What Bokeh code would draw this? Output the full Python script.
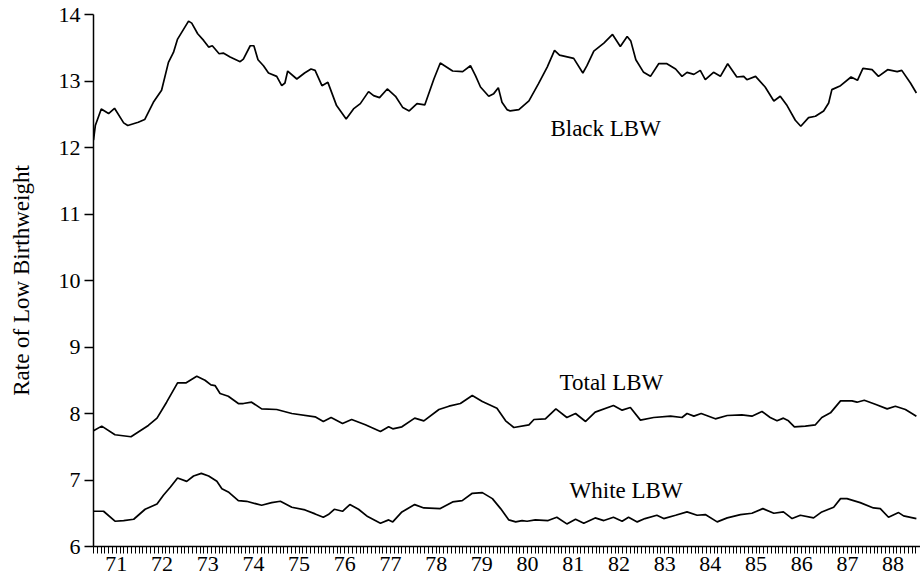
from bokeh.plotting import figure
from bokeh.models import FixedTicker, Label, Range1d, CustomJSTickFormatter
from bokeh.embed import file_html
from bokeh.resources import INLINE

# ---- data (decimal years, rate %) ----
black_x = [71.00, 71.04, 71.17, 71.33, 71.46, 71.66, 71.75, 71.98, 72.12, 72.31, 72.49, 72.64, 72.75, 72.84,
           73.08, 73.15, 73.28, 73.41, 73.52, 73.60, 73.75, 73.84, 73.99, 74.21, 74.28, 74.43, 74.51, 74.60,
           74.72, 74.83, 75.01, 75.12, 75.19, 75.25, 75.45, 75.62, 75.76, 75.85, 76.00, 76.13, 76.32, 76.53,
           76.69, 76.84, 77.02, 77.13, 77.26, 77.43, 77.61, 77.77, 77.91, 78.08, 78.25, 78.45, 78.59, 78.86,
           79.08, 79.25, 79.36, 79.47, 79.65, 79.76, 79.86, 79.94, 80.05, 80.12, 80.31, 80.53, 80.74, 80.93,
           81.09, 81.20, 81.51, 81.71, 81.80, 81.95, 82.17, 82.36, 82.53, 82.68, 82.76, 82.87, 83.04, 83.19,
           83.37, 83.55, 83.74, 83.88, 83.99, 84.14, 84.28, 84.39, 84.57, 84.72, 84.88, 85.08, 85.23, 85.30,
           85.49, 85.70, 85.89, 86.03, 86.18, 86.36, 86.48, 86.65, 86.80, 86.98, 87.09, 87.16, 87.35, 87.58,
           87.72, 87.84, 88.04, 88.18, 88.38, 88.59, 88.69, 88.88, 89.01]
black_y = [12.11, 12.33, 12.58, 12.51, 12.59, 12.37, 12.33, 12.38, 12.42, 12.68, 12.86, 13.28, 13.43, 13.63,
           13.90, 13.87, 13.71, 13.61, 13.51, 13.53, 13.41, 13.42, 13.36, 13.29, 13.33, 13.53, 13.53, 13.32,
           13.23, 13.12, 13.07, 12.93, 12.97, 13.15, 13.03, 13.12, 13.18, 13.16, 12.93, 12.98, 12.63, 12.43,
           12.58, 12.66, 12.84, 12.78, 12.75, 12.88, 12.77, 12.60, 12.55, 12.66, 12.64, 13.03, 13.27, 13.15,
           13.14, 13.23, 13.08, 12.91, 12.77, 12.81, 12.90, 12.68, 12.57, 12.55, 12.57, 12.70, 12.96, 13.21,
           13.46, 13.39, 13.34, 13.12, 13.23, 13.45, 13.57, 13.70, 13.52, 13.67, 13.60, 13.32, 13.13, 13.07,
           13.26, 13.26, 13.18, 13.07, 13.13, 13.10, 13.16, 13.02, 13.13, 13.07, 13.26, 13.06, 13.07, 13.02,
           13.07, 12.91, 12.70, 12.77, 12.63, 12.41, 12.32, 12.45, 12.47, 12.55, 12.67, 12.87, 12.93, 13.06,
           13.01, 13.19, 13.17, 13.07, 13.17, 13.14, 13.16, 12.97, 12.82]

total_x = [71.00, 71.18, 71.47, 71.82, 72.20, 72.39, 72.60, 72.84, 73.02, 73.26, 73.44, 73.57, 73.66, 73.77,
           73.95, 74.17, 74.28, 74.46, 74.68, 75.01, 75.34, 75.85, 76.03, 76.20, 76.45, 76.65, 76.95, 77.28,
           77.46, 77.55, 77.75, 78.03, 78.23, 78.56, 78.78, 79.03, 79.29, 79.51, 79.83, 80.02, 80.20, 80.53,
           80.64, 80.89, 81.12, 81.36, 81.55, 81.77, 81.98, 82.38, 82.57, 82.75, 82.97, 83.26, 83.63, 83.88,
           83.99, 84.14, 84.30, 84.61, 84.87, 85.19, 85.41, 85.63, 85.81, 85.96, 86.10, 86.21, 86.34, 86.58,
           86.80, 86.94, 87.13, 87.35, 87.60, 87.71, 87.87, 88.11, 88.37, 88.55, 88.77, 89.01]
total_y = [7.74, 7.81, 7.68, 7.65, 7.82, 7.93, 8.17, 8.46, 8.46, 8.56, 8.50, 8.43, 8.42, 8.30,
           8.26, 8.15, 8.15, 8.17, 8.07, 8.06, 8.00, 7.95, 7.88, 7.94, 7.85, 7.91, 7.83, 7.73,
           7.80, 7.77, 7.80, 7.93, 7.89, 8.06, 8.11, 8.15, 8.27, 8.18, 8.08, 7.89, 7.79, 7.83,
           7.91, 7.92, 8.07, 7.94, 8.00, 7.88, 8.02, 8.12, 8.05, 8.09, 7.90, 7.94, 7.96, 7.94,
           8.00, 7.96, 8.00, 7.92, 7.97, 7.98, 7.96, 8.03, 7.94, 7.89, 7.93, 7.89, 7.80, 7.81,
           7.83, 7.94, 8.01, 8.19, 8.19, 8.17, 8.20, 8.14, 8.07, 8.11, 8.06, 7.96]

white_x = [71.00, 71.22, 71.47, 71.66, 71.88, 72.13, 72.39, 72.53, 72.68, 72.84, 73.04, 73.19, 73.36, 73.52,
           73.70, 73.81, 73.95, 74.17, 74.35, 74.68, 74.90, 75.09, 75.34, 75.63, 75.85, 76.03, 76.14, 76.27,
           76.45, 76.61, 76.80, 77.00, 77.28, 77.46, 77.55, 77.75, 78.03, 78.23, 78.59, 78.86, 79.07, 79.29,
           79.51, 79.73, 79.91, 80.09, 80.24, 80.38, 80.49, 80.67, 80.95, 81.14, 81.36, 81.55, 81.73, 81.98,
           82.17, 82.38, 82.57, 82.71, 82.90, 83.07, 83.33, 83.48, 83.74, 83.99, 84.21, 84.39, 84.65, 84.87,
           85.16, 85.41, 85.65, 85.89, 86.10, 86.29, 86.47, 86.76, 86.94, 87.20, 87.35, 87.49, 87.78, 88.07,
           88.22, 88.40, 88.62, 88.73, 89.01]
white_y = [6.53, 6.53, 6.38, 6.39, 6.41, 6.56, 6.64, 6.77, 6.89, 7.03, 6.98, 7.06, 7.10, 7.06,
           6.98, 6.87, 6.82, 6.69, 6.68, 6.62, 6.66, 6.68, 6.59, 6.55, 6.49, 6.44, 6.48, 6.56,
           6.53, 6.63, 6.56, 6.45, 6.35, 6.40, 6.37, 6.52, 6.63, 6.58, 6.57, 6.67, 6.69, 6.80,
           6.81, 6.72, 6.57, 6.40, 6.37, 6.39, 6.38, 6.40, 6.39, 6.44, 6.34, 6.41, 6.35, 6.43,
           6.39, 6.44, 6.38, 6.44, 6.37, 6.42, 6.47, 6.42, 6.47, 6.52, 6.47, 6.48, 6.37, 6.43,
           6.48, 6.50, 6.57, 6.50, 6.52, 6.42, 6.47, 6.43, 6.52, 6.59, 6.72, 6.72, 6.66, 6.58,
           6.57, 6.44, 6.51, 6.46, 6.42]

year_tick_pos = [71.5 + i for i in range(18)]
year_labels = ["71", "72", "73", "74", "75", "76", "77", "78", "79",
               "80", "81", "82", "83", "84", "85", "86", "87", "88"]
y_ticks = [6, 7, 8, 9, 10, 11, 12, 13, 14]

FONT = "Liberation Serif"

p = figure(width=920, height=580, x_range=Range1d(71, 89.1), y_range=Range1d(6, 14),
           output_backend="svg", toolbar_location=None,
           min_border_left=93, min_border_right=0, min_border_top=14, min_border_bottom=34)
p.outline_line_color = None
p.grid.visible = False
p.background_fill_color = "white"
p.border_fill_color = "white"

for xs, ys in ((black_x, black_y), (total_x, total_y), (white_x, white_y)):
    p.line(xs, ys, line_color="black", line_width=1.7)

# y axis
ya = p.yaxis[0]
ya.ticker = FixedTicker(ticks=y_ticks, minor_ticks=[])
ya.axis_line_color = "black"
ya.axis_line_width = 1.5
ya.major_tick_out = 9
ya.major_tick_in = 0
ya.major_tick_line_width = 1.5
ya.minor_tick_line_color = None
ya.major_label_text_font = FONT
ya.major_label_text_font_size = "22px"
ya.major_label_text_color = "black"
ya.major_label_standoff = 4
ya.axis_label = "Rate of Low Birthweight"
ya.axis_label_text_font = FONT
ya.axis_label_text_font_size = "23px"
ya.axis_label_text_font_style = "normal"
ya.axis_label_text_color = "black"
ya.axis_label_standoff = 22

# x axis
xa = p.xaxis[0]
month_ticks = [71 + m / 12 for m in range(217)]
xa.ticker = FixedTicker(ticks=year_tick_pos, minor_ticks=month_ticks)
xa.formatter = CustomJSTickFormatter(args=dict(labels=year_labels),
                                     code="return labels[Math.round(tick - 71.5)];")
xa.axis_line_color = "black"
xa.axis_line_width = 1.5
xa.major_tick_line_color = None
xa.minor_tick_out = 7
xa.minor_tick_in = 0
xa.minor_tick_line_color = "black"
xa.minor_tick_line_width = 1
xa.major_label_text_font = FONT
xa.major_label_text_font_size = "22px"
xa.major_label_text_color = "black"
xa.major_label_standoff = 3
xa.major_label_text_line_height = 1.0

for x, y, t in ((81.0, 12.29, "Black LBW"), (81.2, 8.47, "Total LBW"), (81.42, 6.84, "White LBW")):
    p.add_layout(Label(x=x, y=y, text=t, text_font=FONT, text_font_size="23px",
                       text_color="black", text_baseline="alphabetic", text_align="left"))

open("out.html", "w").write(file_html(p, INLINE))
